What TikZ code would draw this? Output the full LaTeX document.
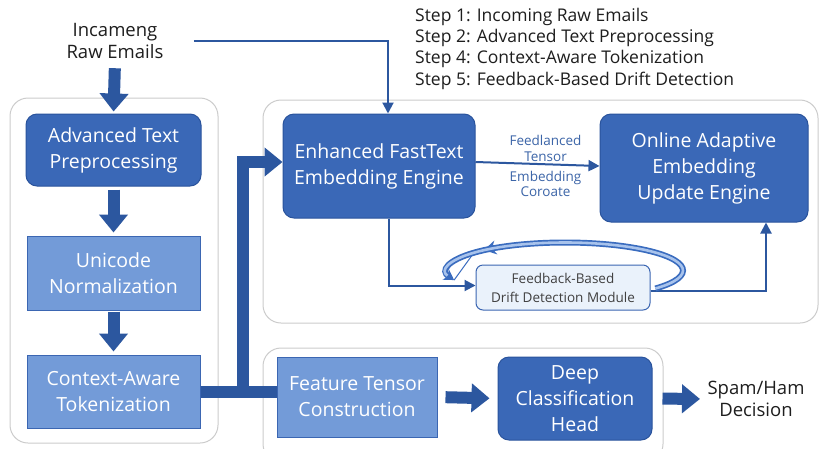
\documentclass[tikz,border=0pt]{standalone}
\usepackage{fontspec}
\setmainfont{Open Sans}
\usetikzlibrary{arrows.meta,calc,decorations.markings}
\definecolor{dblue}{HTML}{3A68B7}
\definecolor{dborder}{HTML}{2A539C}
\definecolor{lblue}{HTML}{739BD8}
\definecolor{lborder}{HTML}{3B66B2}
\definecolor{arr}{HTML}{2C579F}
\definecolor{grp}{HTML}{CCCCCC}
\definecolor{pale}{HTML}{EAF2FB}
\definecolor{txt}{HTML}{1E1E1E}
\definecolor{labc}{HTML}{3C65A8}
\definecolor{ringd}{HTML}{3A6CBF}
\definecolor{ringl}{HTML}{A8C3EC}
\tikzset{
  grpbox/.style={draw=grp, line width=1pt, fill=white, rounded corners=18pt},
  darkbox/.style={draw=dborder, line width=1pt, fill=dblue, rounded corners=11pt, text=white,
    align=center, font=\fontsize{19.5}{26}\selectfont, inner sep=0pt},
  lightbox/.style={draw=lborder, line width=1pt, fill=lblue, text=white,
    align=center, font=\fontsize{19.5}{26}\selectfont, inner sep=0pt},
  palebox/.style={draw=lborder, line width=1pt, fill=pale, rounded corners=7pt, text=txt!85,
    align=center, font=\fontsize{13.5}{19}\selectfont, inner sep=0pt},
  plain/.style={text=txt, align=center, font=\fontsize{18.5}{22}\selectfont},
  bigarrow/.style={draw=arr, line width=12pt, line join=miter, -{Triangle[width=28pt,length=18pt]}},
  bigline/.style={draw=arr, line width=12pt},
  thinarrow/.style={draw=arr, line width=2pt, -{Triangle[width=11pt,length=11pt]}},
  lab/.style={text=labc, align=center, font=\fontsize{13.5}{15.5}\selectfont, inner sep=0pt},
}
\begin{document}
\begin{tikzpicture}[x=1pt,y=-1pt]
\useasboundingbox (0,0) rectangle (822,448);
\clip (0,0) rectangle (822,448);
\fill[white] (0,0) rectangle (822,448);
% groups
\draw[grpbox] (10,98) rectangle (218,443);
\draw[grpbox] (263,100) rectangle (818,323);
\draw[grpbox] (263,348) rectangle (663,462);
% texts
\node[plain] (inc) at (115,41) {Incameng\\Raw Emails};
\node[text=txt, align=left, anchor=north west, font=\fontsize{17.5}{21.2}\selectfont, inner sep=0pt] (steps) at (415,8)
  {Step 1: Incoming Raw Emails\\Step 2: Advanced Text Preprocessing\\Step 4: Context-Aware Tokenization\\Step 5: Feedback-Based Drift Detection};
% left column
\node[darkbox, minimum width=175pt, minimum height=72pt] (pre) at (113.5,150) {Advanced Text\\Preprocessing};
\node[lightbox, minimum width=173pt, minimum height=74pt] (uni) at (113.5,273) {Unicode\\Normalization};
\node[lightbox, minimum width=173pt, minimum height=73pt] (ctx) at (113.5,391.5) {Context-Aware\\Tokenization};
% top right
\node[darkbox, minimum width=192pt, minimum height=104pt] (enh) at (379,166) {Enhanced FastText\\Embedding Engine};
\node[darkbox, minimum width=208pt, minimum height=108pt] (onl) at (704,168) {Online Adaptive\\Embedding\\Update Engine};
\node[palebox, minimum width=174pt, minimum height=45pt] (drift) at (563,287.5) {Feedback-Based\\Drift Detection Module};
% bottom
\node[lightbox, minimum width=160pt, minimum height=80pt] (feat) at (357,397) {Feature Tensor\\Construction};
\node[darkbox, minimum width=154pt, minimum height=83pt] (deep) at (575,398.5) {Deep\\Classification\\Head};
\node[plain] (spam) at (756,399) {Spam/Ham\\Decision};
% big arrows
\draw[bigarrow, shorten <=6pt, shorten >=2pt] (inc.south) -- (pre.north);
\draw[bigarrow, shorten <=3pt, shorten >=3pt] (pre.south) -- (uni.north);
\draw[bigarrow, shorten <=1pt, shorten >=3pt] (uni.south) -- (ctx.north);
\draw[bigline] (ctx.east) -- (ctx.east -| feat.west);
\draw[bigarrow] (ctx.east) -- ++(42,0) |- ([yshift=4pt]enh.west);
\draw[bigarrow, shorten <=8pt, shorten >=8pt] (feat.east) -- (deep.west);
\draw[bigarrow, shorten <=10pt, shorten >=4pt] (deep.east) -- (spam.west);
% thin arrows
\draw[thinarrow] ([xshift=27pt]inc.east) -| ([xshift=9pt]enh.north);
\draw[thinarrow] ([yshift=4pt]enh.east) -- node[lab, above=1.5pt, xshift=8pt]{Feedlanced\\Tensor} node[lab, below=6pt, xshift=8pt]{Embedding\\Coroate} ([yshift=2pt]onl.west);
\draw[thinarrow] ([xshift=10pt]enh.south) |- ([yshift=2pt]drift.west);
\draw[thinarrow] ([yshift=-3pt]drift.east) -| ([xshift=62pt]onl.south);
% feedback loop ring
\coordinate (lc) at ($(drift.north)+(2pt,-6pt)$);
\draw[ringd, line width=1pt] ($(lc)+(200:118pt and 28pt)$) -- ([yshift=14pt]drift.north west);
\draw[ringd, line width=6pt, -{Stealth[length=10pt,width=12pt]},
  postaction={decorate}, decoration={markings, mark=at position 0.81 with {\arrow{Stealth[length=12pt,width=14pt]}}}]
  ($(lc)+(-40:118pt and 28pt)$) arc[start angle=-40, end angle=200, x radius=118pt, y radius=28pt];
\draw[ringl, line width=2.6pt, shorten >=8pt]
  ($(lc)+(-40:118pt and 28pt)$) arc[start angle=-40, end angle=200, x radius=118pt, y radius=28pt];
\end{tikzpicture}
\end{document}
